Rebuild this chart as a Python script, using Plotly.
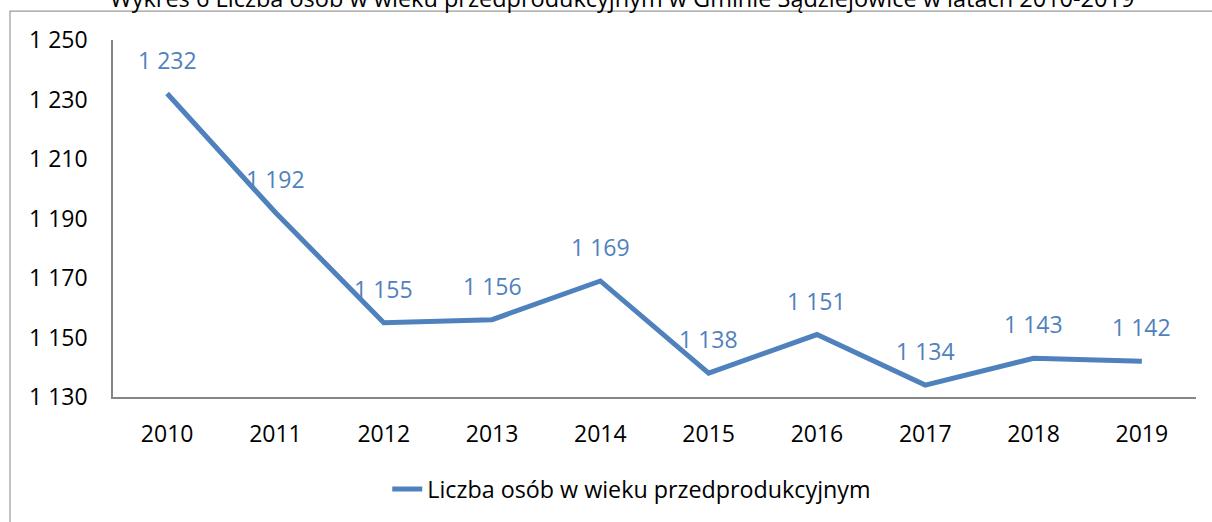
import plotly.graph_objects as go

years = ["2010", "2011", "2012", "2013", "2014", "2015", "2016", "2017", "2018", "2019"]
values = [1232, 1192, 1155, 1156, 1169, 1138, 1151, 1134, 1143, 1142]
y_ticks = [1130, 1150, 1170, 1190, 1210, 1230, 1250]
series_name = "Liczba osób w wieku przedprodukcyjnym"
title_text = "Wykres 6 Liczba osób w wieku przedprodukcyjnym w Gminie Sądziejowice w latach 2010-2019"

def fmt(v):
    return f"{v:,}".replace(",", " ")

FONT = "Open Sans"
BLUE = "#4F81BD"
FS = 23

fig = go.Figure()
fig.add_trace(go.Scatter(
    x=years, y=values, mode="lines", name=series_name,
    line=dict(color=BLUE, width=5),
))

for i, v in enumerate(values):
    fig.add_annotation(x=i, y=v, text=fmt(v), showarrow=False, yshift=34,
                       font=dict(family=FONT, size=FS, color=BLUE))

fig.add_annotation(xref="paper", yref="paper", x=0.47, y=1.119, text=title_text,
                   showarrow=False, font=dict(family=FONT, size=23.5, color="#000000"),
                   yanchor="middle")

# outer chart frame: only left and top edges are inside the picture
fx0 = (10 - 113) / 1083
fy1 = 1 + (40 - 11) / 358
fig.add_shape(type="path", xref="paper", yref="paper",
              path=f"M {fx0} -0.6 L {fx0} {fy1} L 1.2 {fy1}",
              line=dict(color="#9a9a9a", width=1.2), layer="below")

fig.update_layout(
    width=1212, height=522,
    margin=dict(l=113, r=16, t=40, b=124),
    paper_bgcolor="white", plot_bgcolor="white",
    showlegend=True,
    legend=dict(orientation="h", x=0.479, xanchor="center", y=-0.255, yanchor="middle",
                font=dict(family=FONT, size=23.3, color="#000000")),
    font=dict(family=FONT, size=FS, color="#000000"),
)
fig.update_xaxes(type="category", range=[-0.5, 9.5], showgrid=False, showline=True,
                 linecolor="#868686", linewidth=1.5, ticks="", ticklabelstandoff=16,
                 tickfont=dict(family=FONT, size=FS))
fig.update_yaxes(range=[1130, 1250], tickvals=y_ticks, ticktext=[fmt(t) for t in y_ticks],
                 showgrid=False, showline=True, linecolor="#868686", linewidth=1.5,
                 ticks="", ticklabelstandoff=19, zeroline=False,
                 tickfont=dict(family=FONT, size=FS))

fig.write_html(
    "out.html",
    config={"displayModeBar": False},
    post_script="document.body.style.margin='0';document.body.style.overflow='hidden';",
)
